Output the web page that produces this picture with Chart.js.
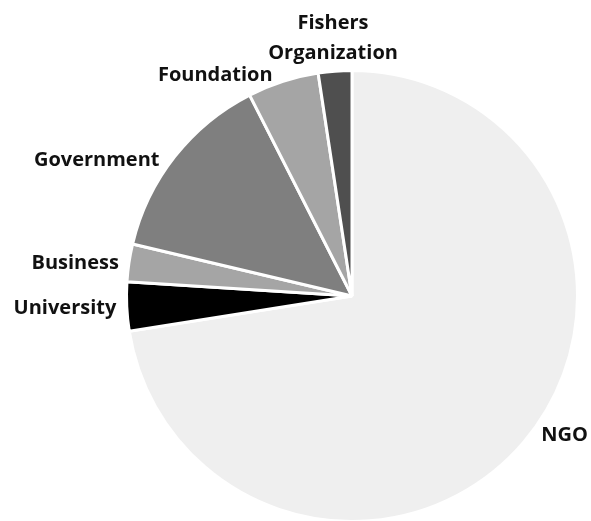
<!DOCTYPE html>
<html>
<head>
<meta charset="utf-8">
<script src="https://cdn.jsdelivr.net/npm/chart.js@4.4.1/dist/chart.umd.min.js"></script>
<style>
  html, body { margin: 0; padding: 0; background: #ffffff; overflow: hidden; }
  #wrap { position: relative; width: 591px; height: 523px; }
</style>
</head>
<body>
<div id="wrap"><canvas id="pie"></canvas></div>
<script>
// Partner types, in clockwise order from 12 o'clock
const categories = ['NGO', 'University', 'Business', 'Government', 'Foundation', ['Fishers', 'Organization']];
// Share of partners (%)
const shares = [72.5, 3.5, 2.7, 13.8, 5.1, 2.4];
const sliceColors = ['#efefef', '#000000', '#a5a5a5', '#7f7f7f', '#a5a5a5', '#4f4f4f'];

// Outside labels: angular nudge (deg) from the slice middle and distance as a multiple of the radius
const labelPlacement = [
  { turn: -7.3, dist: 1.127 },
  { turn: 0.3, dist: 1.274 },
  { turn: -1.7, dist: 1.236 },
  { turn: -10.1, dist: 1.283 },
  { turn: -13.9, dist: 1.153 },
  { turn: 0.1, dist: 1.144 }
];

const outsideLabels = {
  id: 'outsideLabels',
  afterDatasetsDraw(chart) {
    const ctx = chart.ctx;
    const meta = chart.getDatasetMeta(0);
    ctx.save();
    ctx.fillStyle = '#111111';
    ctx.font = 'bold 20px "Open Sans", sans-serif';
    ctx.textAlign = 'center';
    ctx.textBaseline = 'middle';
    meta.data.forEach((arc, i) => {
      const p = arc.getProps(['x', 'y', 'startAngle', 'endAngle', 'outerRadius'], true);
      const mid = (p.startAngle + p.endAngle) / 2 + labelPlacement[i].turn * Math.PI / 180;
      const r = p.outerRadius * labelPlacement[i].dist;
      const lx = p.x + Math.cos(mid) * r;
      const ly = p.y + Math.sin(mid) * r;
      const lines = Array.isArray(categories[i]) ? categories[i] : [categories[i]];
      const lh = 30;
      lines.forEach((t, k) => {
        ctx.fillText(t, lx, ly + (k - (lines.length - 1) / 2) * lh);
      });
    });
    ctx.restore();
  }
};

new Chart(document.getElementById('pie'), {
  type: 'pie',
  data: {
    labels: categories,
    datasets: [{
      data: shares,
      backgroundColor: sliceColors,
      borderColor: '#ffffff',
      borderWidth: 3
    }]
  },
  options: {
    responsive: true,
    maintainAspectRatio: false,
    animation: false,
    rotation: 0,
    layout: { padding: { top: 69, bottom: 0, left: 125, right: 12 } },
    plugins: {
      legend: { display: false },
      tooltip: { enabled: false }
    }
  },
  plugins: [outsideLabels]
});
</script>
</body>
</html>
